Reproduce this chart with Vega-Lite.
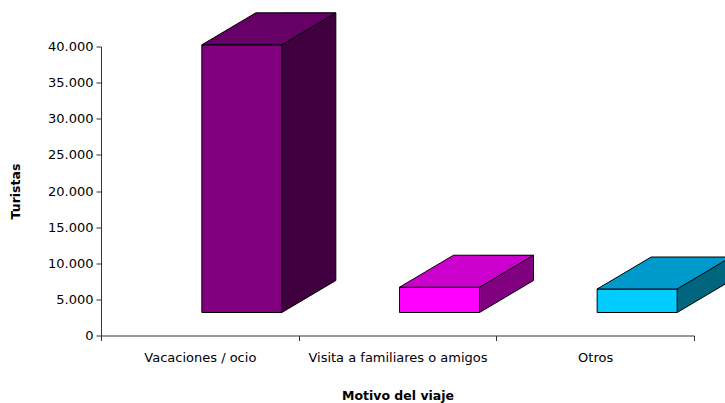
{
  "$schema": "https://vega.github.io/schema/vega-lite/v6.json",
  "width": 593,
  "height": 289,
  "autosize": "none",
  "padding": {"left": 101, "top": 46.5, "right": 31, "bottom": 67.5},
  "background": "white",
  "config": {
    "view": {"stroke": null},
    "font": "DejaVu Sans",
    "axis": {
      "domainColor": "#333333",
      "tickColor": "#333333",
      "labelColor": "#000000",
      "titleColor": "#000000",
      "labelFont": "DejaVu Sans",
      "titleFont": "DejaVu Sans",
      "labelFontSize": 13,
      "titleFontSize": 12.5,
      "titleFontWeight": "bold",
      "grid": false,
      "tickSize": 5
    }
  },
  "data": {
    "values": [
      {"motivo": "Vacaciones / ocio", "turistas": 37050},
      {"motivo": "Visita a familiares o amigos", "turistas": 3500},
      {"motivo": "Otros", "turistas": 3250}
    ]
  },
  "encoding": {
    "x": {
      "field": "motivo",
      "type": "nominal",
      "sort": null,
      "scale": {"paddingInner": 0, "paddingOuter": 0},
      "axis": {
        "title": "Motivo del viaje",
        "labelAngle": 0,
        "tickBand": "extent",
        "labelPadding": 11,
        "titlePadding": 25
      }
    },
    "y": {
      "field": "turistas",
      "type": "quantitative",
      "title": "Turistas",
      "scale": {"domain": [0, 40000], "nice": false},
      "axis": {
        "values": [0, 5000, 10000, 15000, 20000, 25000, 30000, 35000, 40000],
        "labelExpr": "replace(format(datum.value, ','), ',', '.')",
        "labelPadding": 3,
        "titlePadding": 25
      }
    }
  },
  "layer": [
    {
      "mark": {"type": "bar", "width": 54, "xOffset": 109, "yOffset": -55, "y2Offset": -23, "strokeWidth": 0},
      "encoding": {
        "y2": {"datum": 0},
        "color": {"field": "motivo", "type": "nominal", "sort": null, "legend": null,
          "scale": {"domain": ["Vacaciones / ocio", "Visita a familiares o amigos", "Otros"], "range": ["#400040", "#800080", "#006680"]}}
      }
    },
    {
      "mark": {"type": "point", "shape": "M82,-23L136,-55L137.5,-55L137.5,-21.5L82,-21.5Z", "size": 4, "filled": true, "fill": "white", "strokeWidth": 0, "opacity": 1},
      "encoding": {"y": {"datum": 0, "type": "quantitative", "title": "Turistas"}}
    },
    {
      "mark": {"type": "rule", "xOffset": 136, "yOffset": -55, "y2Offset": -55, "color": "black", "strokeWidth": 1},
      "encoding": {"y2": {"datum": 0}}
    },
    {
      "mark": {"type": "point", "shape": "M82,-23L136,-55", "size": 4, "filled": false, "stroke": "black", "strokeWidth": 1, "opacity": 1},
      "encoding": {"y": {"datum": 0, "type": "quantitative", "title": "Turistas"}}
    },
    {
      "mark": {"type": "bar", "width": 80, "xOffset": 42, "yOffset": -23, "y2Offset": -23, "stroke": "black", "strokeWidth": 1},
      "encoding": {
        "y2": {"datum": 0},
        "color": {"field": "motivo", "type": "nominal", "sort": null, "legend": null,
          "scale": {"domain": ["Vacaciones / ocio", "Visita a familiares o amigos", "Otros"], "range": ["#800080", "#FF00FF", "#00CCFF"]}}
      }
    },
    {
      "mark": {"type": "point", "shape": "M2,-23L82,-23L136,-55L56,-55Z", "size": 4, "filled": true, "stroke": "black", "strokeWidth": 1, "opacity": 1},
      "encoding": {
        "fill": {"field": "motivo", "type": "nominal", "sort": null, "legend": null,
          "scale": {"domain": ["Vacaciones / ocio", "Visita a familiares o amigos", "Otros"], "range": ["#660066", "#CC00CC", "#0099CC"]}}
      }
    }
  ],
  "resolve": {"scale": {"color": "independent", "fill": "independent"}}
}
